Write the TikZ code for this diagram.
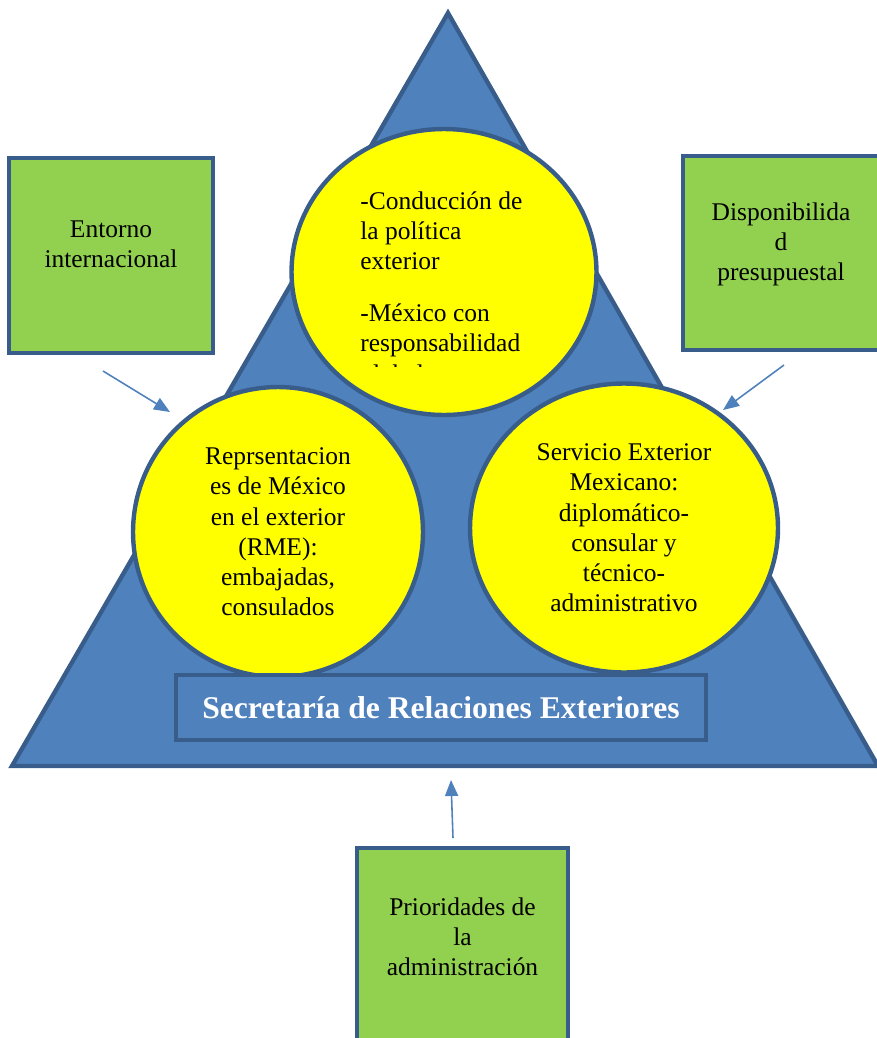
\documentclass[tikz,border=0pt]{standalone}
\usepackage{fontspec}
\setmainfont{Liberation Serif}
\usetikzlibrary{shapes.geometric,arrows.meta}

\definecolor{sreblue}{HTML}{4F81BD}
\definecolor{sreline}{HTML}{385D8A}
\definecolor{factorgreen}{HTML}{92D050}
\definecolor{circyellow}{HTML}{FFFF00}

\begin{document}
\begin{tikzpicture}[x=0.02cm,y=-0.02cm,
  txt/.style={align=center, inner sep=0pt, font=\fontsize{14.5}{17.2}\selectfont},
  factor/.style={rectangle, draw=sreline, fill=factorgreen, line width=2.5pt},
  circ/.style={ellipse, draw=sreline, fill=circyellow, line width=2.5pt, inner sep=0pt, txt},
  flow/.style={draw=sreblue, line width=0.9pt, -{Triangle[length=0.32cm,width=0.26cm]}}]
\useasboundingbox (0,0) rectangle (876,1038);

% triangulo
\draw[fill=sreblue, draw=sreline, line width=2.5pt] (448,13) -- (12,766) -- (878,766) -- cycle;

% circulos
\node[circ, minimum width=6.1cm, minimum height=5.72cm] (politica) at (444,272) {};
\begin{scope}
  \clip (290,100) rectangle (600,366);
  \node[txt, align=left, anchor=north west] (politica-txt) at (360,191)
    {-Conducción de\\la política\\exterior\\[0.44cm]-México con\\responsabilidad\\global};
\end{scope}
\node[circ, minimum width=5.8cm, minimum height=5.8cm] (rme) at (278,532)
  {Reprsentacion\\es de México\\en el exterior\\(RME):\\embajadas,\\consulados};
\node[circ, minimum width=6.16cm, minimum height=5.78cm] (sem) at (624,528)
  {Servicio Exterior\\Mexicano:\\diplomático-\\consular y\\técnico-\\administrativo};

\node[rectangle, draw=sreline, fill=sreblue, line width=2.5pt, minimum width=10.6cm,
  minimum height=1.3cm, text=white, font=\fontsize{18}{20}\selectfont\bfseries] (sre)
  at (441,707.5) {Secretaría de Relaciones Exteriores};

% factores
\node[factor, minimum width=4.08cm, minimum height=3.9cm] (entorno) at (111,255.5) {};
\node[txt] (entorno-txt) at (111,244.5) {Entorno\\internacional};
\node[factor, minimum width=3.92cm, minimum height=3.88cm] (presupuesto) at (781,253) {};
\node[txt] (presupuesto-txt) at (781,244.5) {Disponibilida\\d\\presupuestal};
\node[factor, minimum width=4.22cm, minimum height=4cm] (prioridades) at (462.5,948) {};
\node[txt] (prioridades-txt) at (462.5,936.5) {Prioridades de\\la\\administración};

% flechas
\coordinate (entorno-out) at (103,371);
\coordinate (rme-in) at (170,412);
\coordinate (presupuesto-out) at (784,365);
\coordinate (sem-in) at (723,410);
\coordinate (prioridades-out) at (453,838);
\coordinate (sre-in) at (451,780);
\draw[flow] (entorno-out) -- (rme-in);
\draw[flow] (presupuesto-out) -- (sem-in);
\draw[flow] (prioridades-out) -- (sre-in);
\end{tikzpicture}
\end{document}
